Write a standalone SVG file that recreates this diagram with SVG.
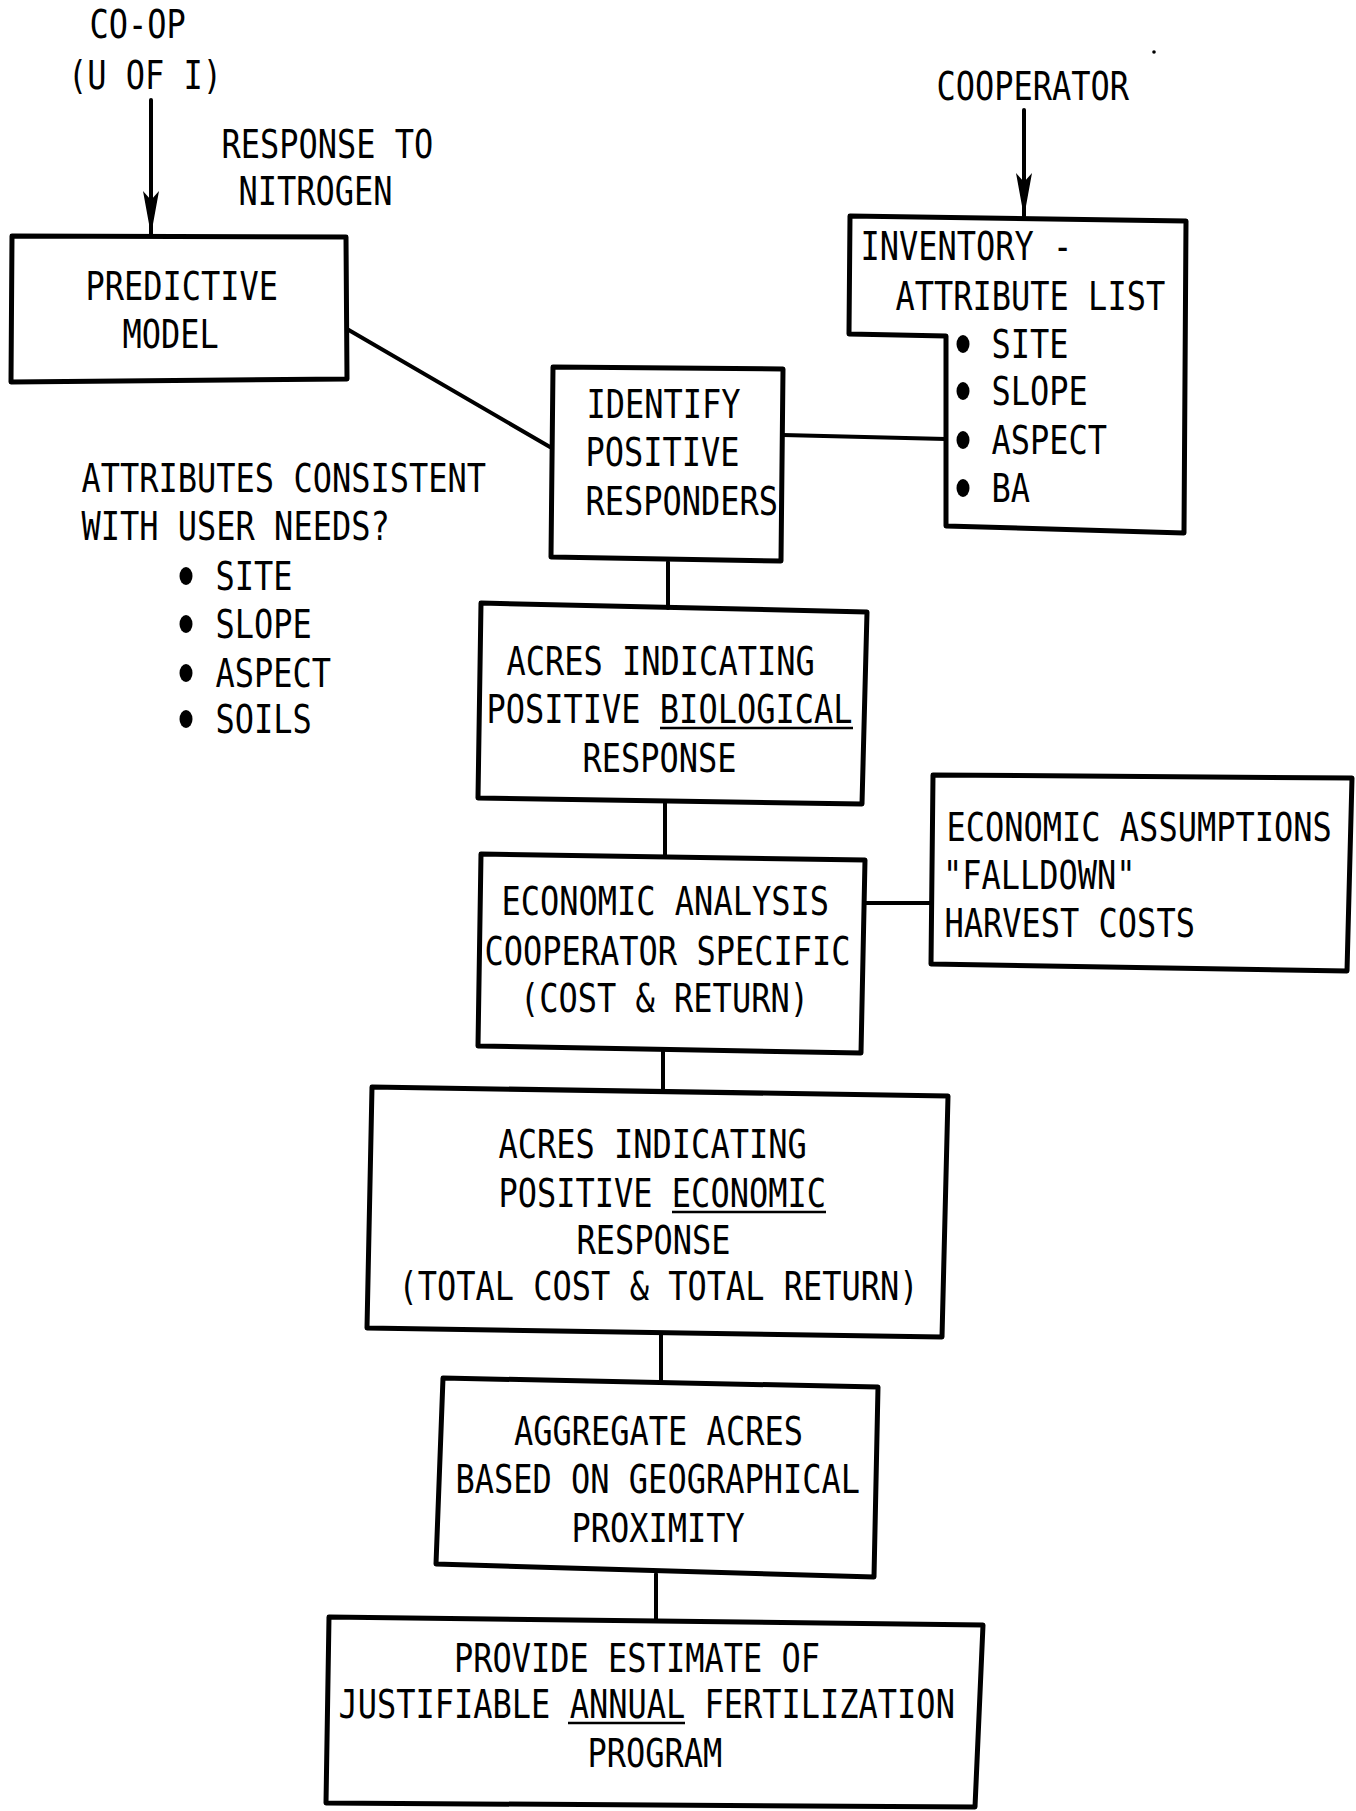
<svg xmlns="http://www.w3.org/2000/svg" width="1356" height="1811" viewBox="0 0 1356 1811">
<style>
.t{font-family:"DejaVu Sans Mono","Liberation Mono",monospace;font-size:32px;fill:#000}
.box{fill:none;stroke:#000;stroke-width:5;stroke-linejoin:round;stroke-linecap:round}
.ln{fill:none;stroke:#000;stroke-width:4;stroke-linecap:round}
.ul{fill:none;stroke:#000;stroke-width:2.5}
</style>
<defs>
<marker id="arr" viewBox="0 0 44 16" refX="43" refY="8" markerWidth="44" markerHeight="16" orient="auto" markerUnits="userSpaceOnUse">
<path d="M0,0 L44,8 L0,16 L9,8 z" fill="#000"/>
</marker>
</defs>
<rect width="1356" height="1811" fill="#fff"/>

<g id="connectors">
<line class="ln" x1="151" y1="100" x2="151" y2="234" stroke-width="2.5" marker-end="url(#arr)"/>
<line class="ln" x1="1024" y1="110" x2="1024" y2="216" stroke-width="2.5" marker-end="url(#arr)"/>
<line class="ln" x1="347" y1="329" x2="550" y2="447"/>
<line class="ln" x1="783" y1="435" x2="946" y2="439"/>
<line class="ln" x1="668" y1="562" x2="668" y2="608"/>
<line class="ln" x1="665" y1="803" x2="665" y2="857"/>
<line class="ln" x1="864" y1="903" x2="932" y2="903"/>
<line class="ln" x1="663" y1="1050" x2="663" y2="1092"/>
<line class="ln" x1="661" y1="1335" x2="661" y2="1382"/>
<line class="ln" x1="656" y1="1574" x2="656" y2="1620"/>
</g>

<g id="label-coop">
<text class="t" transform="translate(89.5,38) scale(1,1.22)">CO-OP</text>
<text class="t" transform="translate(68,89) scale(1,1.22)">(U OF I)</text>
</g>
<g id="label-response">
<text class="t" transform="translate(221.5,158) scale(1,1.22)">RESPONSE TO</text>
<text class="t" transform="translate(238.5,205) scale(1,1.22)">NITROGEN</text>
</g>
<g id="label-cooperator">
<text class="t" transform="translate(936.5,100) scale(1,1.22)">COOPERATOR</text>
<circle cx="1154" cy="52" r="1.8" fill="#000"/>
</g>

<g id="predictive-model">
<polygon class="box" points="12,236 346,237 347,379 11,382"/>
<text class="t" transform="translate(85.5,300) scale(1,1.22)">PREDICTIVE</text>
<text class="t" transform="translate(122.5,348) scale(1,1.22)">MODEL</text>
</g>

<g id="inventory">
<polygon class="box" points="850,216 1186,221 1184,533 946,526 946,336 849,334"/>
<text class="t" transform="translate(860.5,260) scale(1,1.22)">INVENTORY -</text>
<text class="t" transform="translate(895.5,310) scale(1,1.22)">ATTRIBUTE LIST</text>
<ellipse cx="963" cy="344" rx="6.5" ry="9"/>
<text class="t" transform="translate(991.5,358) scale(1,1.22)">SITE</text>
<ellipse cx="963" cy="391" rx="6.5" ry="9"/>
<text class="t" transform="translate(991.5,405) scale(1,1.22)">SLOPE</text>
<ellipse cx="963" cy="440" rx="6.5" ry="9"/>
<text class="t" transform="translate(991.5,454) scale(1,1.22)">ASPECT</text>
<ellipse cx="963" cy="488" rx="6.5" ry="9"/>
<text class="t" transform="translate(991.5,502) scale(1,1.22)">BA</text>
</g>

<g id="identify">
<polygon class="box" points="553,367 783,369 781,561 551,557"/>
<text class="t" transform="translate(586.5,418) scale(1,1.22)">IDENTIFY</text>
<text class="t" transform="translate(585.5,466) scale(1,1.22)">POSITIVE</text>
<text class="t" transform="translate(585.5,515) scale(1,1.22)">RESPONDERS</text>
</g>

<g id="attributes-question">
<text class="t" transform="translate(81.5,492) scale(1,1.22)">ATTRIBUTES CONSISTENT</text>
<text class="t" transform="translate(81.5,540) scale(1,1.22)">WITH USER NEEDS?</text>
<ellipse cx="186" cy="576" rx="6.5" ry="9"/>
<text class="t" transform="translate(215.5,590) scale(1,1.22)">SITE</text>
<ellipse cx="186" cy="624" rx="6.5" ry="9"/>
<text class="t" transform="translate(215.5,638) scale(1,1.22)">SLOPE</text>
<ellipse cx="186" cy="673" rx="6.5" ry="9"/>
<text class="t" transform="translate(215.5,687) scale(1,1.22)">ASPECT</text>
<ellipse cx="186" cy="719" rx="6.5" ry="9"/>
<text class="t" transform="translate(215.5,733) scale(1,1.22)">SOILS</text>
</g>

<g id="acres-biological">
<polygon class="box" points="481,603 867,612 862,804 478,798"/>
<text class="t" transform="translate(506.5,675) scale(1,1.22)">ACRES INDICATING</text>
<text class="t" transform="translate(486.5,723) scale(1,1.22)">POSITIVE BIOLOGICAL</text>
<line class="ul" x1="660" y1="728" x2="853" y2="728"/>
<text class="t" transform="translate(582.5,772) scale(1,1.22)">RESPONSE</text>
</g>

<g id="economic-analysis">
<polygon class="box" points="481,854 865,860 861,1053 478,1046"/>
<text class="t" transform="translate(501.5,915) scale(1,1.22)">ECONOMIC ANALYSIS</text>
<text class="t" transform="translate(484.5,965) scale(1,1.22)">COOPERATOR SPECIFIC</text>
<text class="t" transform="translate(520,1012) scale(1,1.22)">(COST &amp; RETURN)</text>
</g>

<g id="economic-assumptions">
<polygon class="box" points="933,775 1352,778 1347,971 931,964"/>
<text class="t" transform="translate(946.5,841) scale(1,1.22)">ECONOMIC ASSUMPTIONS</text>
<text class="t" transform="translate(943,889) scale(1,1.22)">"FALLDOWN"</text>
<text class="t" transform="translate(944.5,937) scale(1,1.22)">HARVEST COSTS</text>
</g>

<g id="acres-economic">
<polygon class="box" points="372,1087 948,1096 942,1337 367,1328"/>
<text class="t" transform="translate(498.5,1158) scale(1,1.22)">ACRES INDICATING</text>
<text class="t" transform="translate(498.5,1207) scale(1,1.22)">POSITIVE ECONOMIC</text>
<line class="ul" x1="672" y1="1212" x2="826" y2="1212"/>
<text class="t" transform="translate(576.5,1254) scale(1,1.22)">RESPONSE</text>
<text class="t" transform="translate(398.5,1300) scale(1,1.22)">(TOTAL COST &amp; TOTAL RETURN)</text>
</g>

<g id="aggregate">
<polygon class="box" points="443,1378 878,1387 874,1577 436,1564"/>
<text class="t" transform="translate(514,1445) scale(1,1.22)">AGGREGATE ACRES</text>
<text class="t" transform="translate(455.5,1493) scale(1,1.22)">BASED ON GEOGRAPHICAL</text>
<text class="t" transform="translate(571.5,1542) scale(1,1.22)">PROXIMITY</text>
</g>

<g id="final-estimate">
<polygon class="box" points="329,1617 983,1625 975,1807 326,1803"/>
<text class="t" transform="translate(454,1672) scale(1,1.22)">PROVIDE ESTIMATE OF</text>
<text class="t" transform="translate(338.5,1718) scale(1,1.22)">JUSTIFIABLE ANNUAL FERTILIZATION</text>
<line class="ul" x1="568" y1="1723" x2="685" y2="1723"/>
<text class="t" transform="translate(587.5,1767) scale(1,1.22)">PROGRAM</text>
</g>
</svg>
